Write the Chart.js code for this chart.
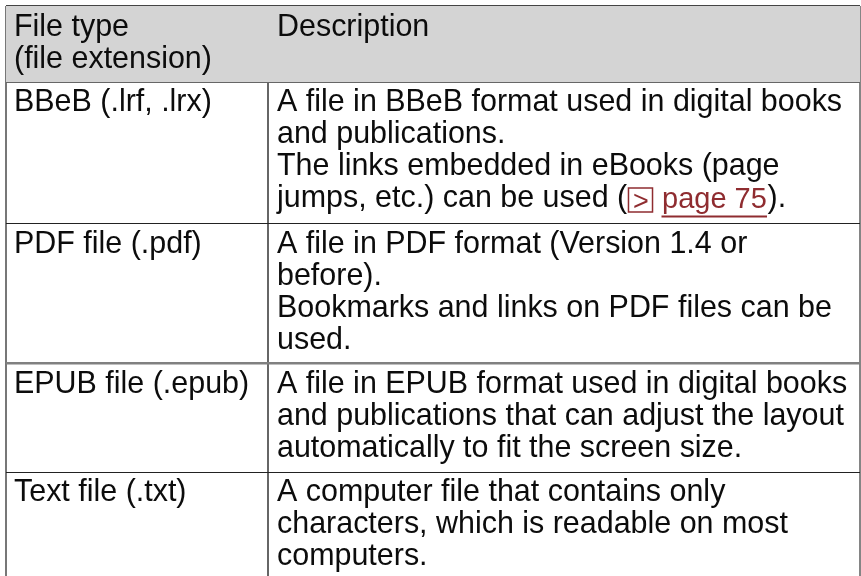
<!DOCTYPE html>
<html>
<head>
<meta charset="utf-8">
<style>
  html, body { margin: 0; padding: 0; background: #fff; overflow: hidden; }
</style>
<script src="https://cdn.jsdelivr.net/npm/chart.js@4"></script>
</head>
<body>
<canvas id="tabela" width="861" height="576"></canvas>
<script>
// contents of the table
const headerType = ['File type', '(file extension)'];
const headerDescription = ['Description'];
const fileTypes = ['BBeB (.lrf, .lrx)', 'PDF file (.pdf)', 'EPUB file (.epub)', 'Text file (.txt)'];
const descriptions = [
  ['A file in BBeB format used in digital books', 'and publications.', 'The links embedded in eBooks (page', 'jumps, etc.) can be used ('],
  ['A file in PDF format (Version 1.4 or', 'before).', 'Bookmarks and links on PDF files can be', 'used.'],
  ['A file in EPUB format used in digital books', 'and publications that can adjust the layout', 'automatically to fit the screen size.'],
  ['A computer file that contains only', 'characters, which is readable on most', 'computers.']
];
const linkArrow = '>';
const linkText = 'page 75';
const linkTail = ').';

// table borders
const columnEdges = [6, 267.5, 860];
const rowEdges = [6, 82, 223, 363, 472];
const rowBaselines = [36, 111, 253, 393, 501];

const familia = '"Liberation Sans", Arial, Helvetica, sans-serif';
const fonte = '30.45px ' + familia;
const corTexto = '#0c0c0c';
const corLink = '#8f2c30';
const entrelinha = 32;
const padCol = [8, 9.5];

const drawText = {
  id: 'drawText',
  afterDatasetsDraw(chart) {
    const { ctx, scales: { x, y } } = chart;
    ctx.save();
    ctx.font = fonte;
    ctx.fillStyle = corTexto;
    ctx.textBaseline = 'alphabetic';
    const bloco = (lines, col, base) => {
      lines.forEach((line, i) => {
        ctx.fillText(line, x.getPixelForValue(columnEdges[col] + padCol[col]), y.getPixelForValue(base + i * entrelinha));
      });
    };
    bloco(headerType, 0, rowBaselines[0]);
    bloco(headerDescription, 1, rowBaselines[0]);
    fileTypes.forEach((t, i) => bloco([t], 0, rowBaselines[i + 1]));
    descriptions.forEach((d, i) => bloco(d, 1, rowBaselines[i + 1]));

    // link inside the first row
    const base = y.getPixelForValue(rowBaselines[1] + 3 * entrelinha);
    ctx.fillText(linkTail, x.getPixelForValue(767.5), base);
    ctx.fillStyle = corLink;
    ctx.font = '27px ' + familia;
    ctx.fillText(linkArrow, x.getPixelForValue(633), base + 3);
    ctx.font = '29px ' + familia;
    ctx.fillText(linkText, x.getPixelForValue(662), base + 1);
    ctx.restore();
  }
};

new Chart(document.getElementById('tabela').getContext('2d'), {
  type: 'scatter',
  data: {
    datasets: [
      // header band, filled between its top and bottom edges
      {
        showLine: true, borderWidth: 0, pointRadius: 0, fill: false,
        data: [{ x: columnEdges[0], y: rowEdges[0] }, { x: columnEdges[2], y: rowEdges[0] }]
      },
      {
        showLine: true, borderWidth: 0, pointRadius: 0, fill: '-1', backgroundColor: '#d4d4d4',
        data: [{ x: columnEdges[0], y: rowEdges[1] }, { x: columnEdges[2], y: rowEdges[1] }]
      },
      // link underline
      {
        showLine: true, borderWidth: 1.8, borderColor: corLink, pointRadius: 0,
        data: [{ x: 661.5, y: 216.5 }, { x: 767, y: 216.5 }]
      },
      // link box
      {
        showLine: false, pointStyle: 'rect', pointRadius: 17, pointBorderWidth: 1.5,
        pointBorderColor: corLink, pointBackgroundColor: 'rgba(0,0,0,0)',
        data: [{ x: 640.5, y: 200 }]
      }
    ]
  },
  plugins: [drawText],
  options: {
    responsive: false,
    animation: false,
    layout: { padding: { left: 6, top: 6, right: 1, bottom: 0 }, autoPadding: false },
    plugins: { legend: { display: false }, tooltip: { enabled: false }, title: { display: false } },
    scales: {
      x: {
        type: 'linear', min: 6, max: 860,
        border: { display: false },
        ticks: { display: false },
        afterBuildTicks: axis => { axis.ticks = columnEdges.map(v => ({ value: v })); },
        grid: {
          drawTicks: false, tickLength: 0,
          color: ctx => ['#777777', '#666666', '#858585'][ctx.index],
          lineWidth: ctx => [2, 2, 3][ctx.index]
        }
      },
      y: {
        type: 'linear', min: 6, max: 576, reverse: true,
        border: { display: false },
        ticks: { display: false },
        afterBuildTicks: axis => { axis.ticks = rowEdges.map(v => ({ value: v })); },
        grid: {
          drawTicks: false, tickLength: 0,
          color: ctx => ['#444444', '#666666', '#222222', '#808080', '#222222'][ctx.index],
          lineWidth: ctx => [1.5, 2, 1, 2.5, 1][ctx.index]
        }
      }
    }
  }
});
</script>
</body>
</html>
